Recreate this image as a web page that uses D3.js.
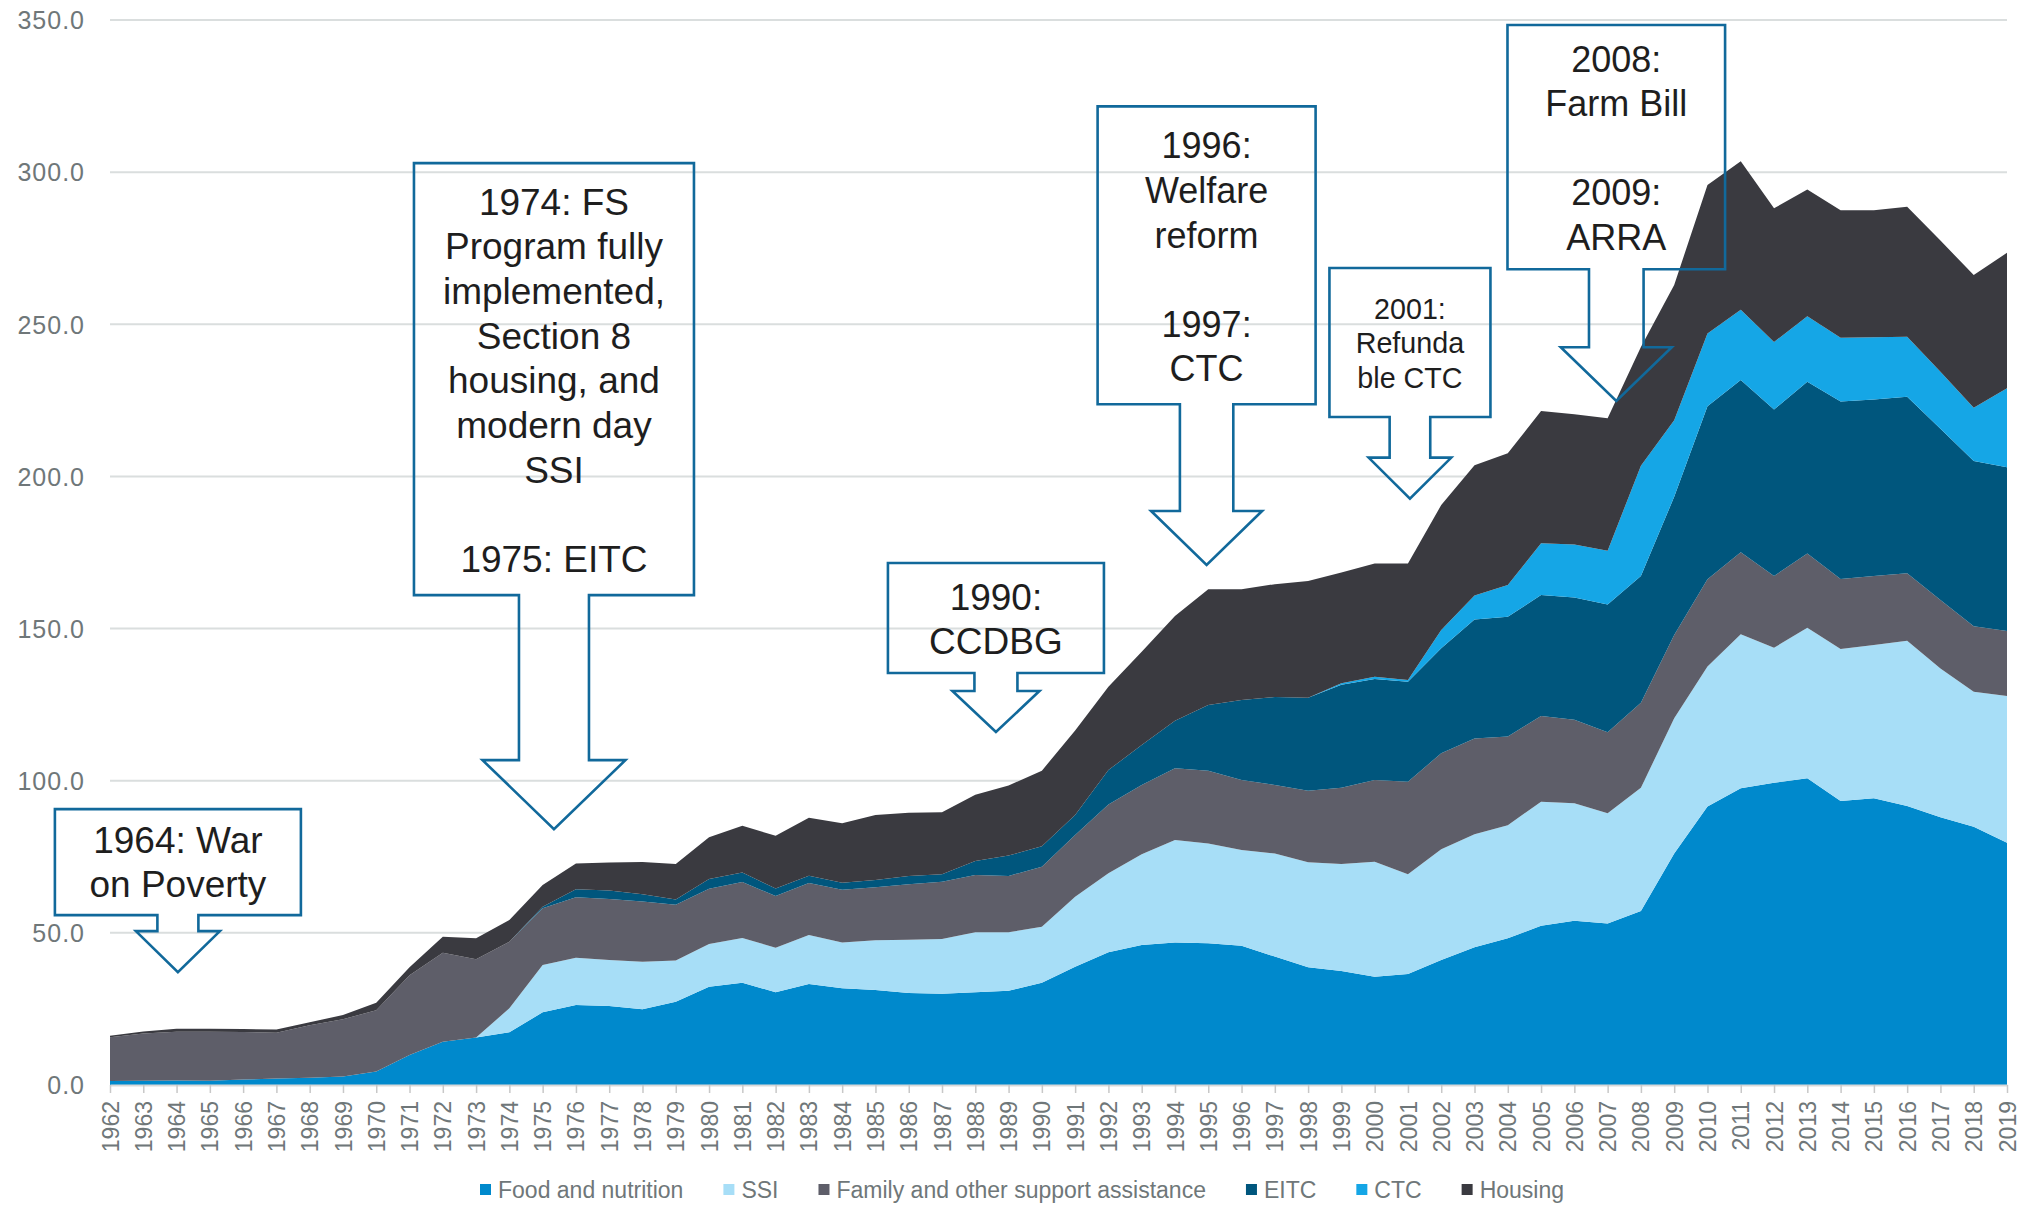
<!DOCTYPE html>
<html>
<head>
<meta charset="utf-8">
<script src="https://cdn.jsdelivr.net/npm/d3@7"></script>
<style>
  html, body { margin: 0; padding: 0; background: #ffffff; }
  svg { display: block; font-family: "Liberation Sans", Arial, sans-serif; }
</style>
</head>
<body>
<svg id="chart" width="2028" height="1206"></svg>
<script>
// ---------------- DATA ----------------
const years = [1962,1963,1964,1965,1966,1967,1968,1969,1970,1971,
               1972,1973,1974,1975,1976,1977,1978,1979,1980,1981,
               1982,1983,1984,1985,1986,1987,1988,1989,1990,1991,
               1992,1993,1994,1995,1996,1997,1998,1999,2000,2001,
               2002,2003,2004,2005,2006,2007,2008,2009,2010,2011,
               2012,2013,2014,2015,2016,2017,2018,2019];

const seriesNames = ["Food and nutrition", "SSI", "Family and other support assistance", "EITC", "CTC", "Housing"];

const food = [1.3,1.4,1.5,1.4,1.8,2.1,2.4,2.8,4.4,9.9,
              14.2,15.6,17.3,23.9,26.3,26.0,24.9,27.4,32.3,33.6,
              30.5,33.2,31.8,31.2,30.2,30.0,30.5,31.0,33.6,38.9,
              43.6,46.0,46.8,46.6,45.8,42.2,38.7,37.5,35.6,36.5,
              41.1,45.3,48.2,52.3,54.0,53.1,57.2,76.1,91.5,97.5,
              99.3,100.8,93.3,94.2,91.7,88.0,84.9,79.6];

const ssi = [0,0,0,0,0,0,0,0,0,0,
             0,0,7.9,15.5,15.5,15.1,15.6,13.5,14.0,14.7,
             14.6,16.1,15.0,16.4,17.5,18.0,19.7,19.2,18.4,23.0,
             26.0,29.8,33.7,32.8,31.4,33.9,34.5,35.1,37.8,32.8,
             36.4,37.1,37.2,40.8,38.6,36.2,40.5,44.4,46.0,50.6,
             44.4,49.5,50.0,50.4,54.3,48.9,44.3,48.2];

const family = [14.4,15.5,16.0,16.1,15.6,15.1,17.2,18.8,20.2,26.2,
                29.3,25.7,21.9,18.7,19.9,20.0,19.8,18.3,18.2,18.4,
                17.0,17.1,17.4,17.4,18.3,18.8,18.8,18.5,19.7,20.3,
                22.6,22.8,23.6,23.9,23.0,22.5,23.5,25.1,26.8,30.4,
                31.5,31.5,29.1,28.2,27.4,26.6,27.9,27.4,28.7,27.0,
                23.6,24.4,23.0,22.7,22.2,22.5,21.6,21.4];

const eitc = [0,0,0,0,0,0,0,0,0,0,
              0,0,0,0.5,2.6,2.8,2.4,1.8,3.2,3.1,
              2.5,2.4,2.3,2.4,2.7,2.5,4.6,6.7,6.8,6.5,
              11.3,13.1,15.6,21.6,26.3,28.9,30.6,33.8,33.2,32.8,
              34.5,39.1,39.4,39.7,40.2,42.0,41.7,45.4,56.9,56.6,
              54.7,56.4,58.3,58.0,58.0,56.3,54.3,53.8];

const ctc = [0,0,0,0,0,0,0,0,0,0,
             0,0,0,0,0,0,0,0,0,0,
             0,0,0,0,0,0,0,0,0,0,
             0,0,0,0,0,0,0,0.5,0.8,0.6,
             6.0,7.9,10.4,17.0,17.4,17.7,36.2,25.2,23.9,23.1,
             22.2,21.5,21.0,20.4,19.7,18.7,17.5,26.0];

const housing = [0.5,0.7,1.0,1.0,1.0,1.0,1.0,1.4,2.4,2.6,
                 5.2,6.9,7.1,7.1,8.5,9.2,10.6,11.6,13.7,15.4,
                 17.3,19.0,19.5,21.3,20.8,20.3,21.8,23.0,24.8,27.8,
                 27.4,30.7,34.4,38.0,36.4,37.1,38.3,36.4,37.2,38.3,
                 41.1,42.8,43.3,43.5,42.8,43.5,39.0,44.4,48.8,48.8,
                 43.9,41.7,41.9,41.8,42.7,43.1,43.6,44.5];

const yTicks = [0, 50, 100, 150, 200, 250, 300, 350];

const calloutTexts = [
  ["1964: War", "on Poverty"],
  ["1974: FS", "Program fully", "implemented,", "Section 8", "housing, and", "modern day", "SSI", "", "1975: EITC"],
  ["1990:", "CCDBG"],
  ["1996:", "Welfare", "reform", "", "1997:", "CTC"],
  ["2001:", "Refunda", "ble CTC"],
  ["2008:", "Farm Bill", "", "2009:", "ARRA"]
];
// arrow tip anchors in data space [year, value]
const calloutTips = [[1964.04, 37.1], [1975.34, 84.1], [1988.62, 116.0], [1994.95, 170.9], [2001.06, 192.7], [2007.26, 224.8]];

// ---------------- STYLE / LAYOUT ----------------
const colors = ["#0089CC", "#A7DEF7", "#5E5E69", "#00567D", "#15A6E6", "#3A3A40"];
const W = 2028, H = 1206;
const plot = { left: 110, right: 2007, top: 20, bottom: 1085 };
const calloutShapes = [
  {hw:123,   top:-163,   bot:-57,    stem:20.5, stemBot:-41,   wing:42,   base:-119.3, lh:44.6, fs:37},
  {hw:140,   top:-666,   bot:-234,   stem:35,   stemBot:-69,   wing:71.5, base:-614.5, lh:44.7, fs:37},
  {hw:108,   top:-169,   bot:-59,    stem:21.5, stemBot:-41,   wing:43.5, base:-122,   lh:44,   fs:37},
  {hw:109,   top:-458.6, bot:-160.7, stem:26.7, stemBot:-54,   wing:55.5, base:-406.5, lh:44.6, fs:36},
  {hw:80.5,  top:-230.7, bot:-81.7,  stem:20.3, stemBot:-41,   wing:41.3, base:-179.7, lh:34.4, fs:28.7},
  {hw:108.8, top:-376,   bot:-131.7, stem:27.3, stemBot:-53.7, wing:55.5, base:-329.3, lh:44.6, fs:36}
];

// ---------------- BUILD ----------------
const svg = d3.select("#chart");
svg.append("rect").attr("width", W).attr("height", H).attr("fill", "#ffffff");

const x = d3.scaleLinear().domain([years[0], years[years.length - 1]]).range([plot.left, plot.right]);
const y = d3.scaleLinear().domain([0, 350]).range([plot.bottom, plot.top]);

const seriesArrays = [food, ssi, family, eitc, ctc, housing];
const table = years.map((yr, i) => {
  const row = { year: yr };
  seriesNames.forEach((k, j) => row[k] = seriesArrays[j][i]);
  return row;
});

// gridlines
svg.append("g").selectAll("line").data(yTicks.filter(t => t > 0)).join("line")
  .attr("x1", plot.left).attr("x2", plot.right)
  .attr("y1", d => y(d)).attr("y2", d => y(d))
  .attr("stroke", "#DADEDE").attr("stroke-width", 2);

// stacked areas
const stack = d3.stack().keys(seriesNames);
const layers = stack(table);
const area = d3.area()
  .x(d => x(d.data.year))
  .y0(d => y(d[0]))
  .y1(d => y(d[1]));
svg.append("g").selectAll("path").data(layers).join("path")
  .attr("d", area)
  .attr("fill", (d, i) => colors[i]);

// x axis
const xAxis = d3.axisBottom(x).tickValues(years).tickFormat(d3.format("d")).tickSize(8).tickSizeOuter(0);
const gx = svg.append("g").attr("transform", `translate(0,${plot.bottom})`).call(xAxis);
gx.select(".domain").attr("stroke", "#D9D9D9").attr("stroke-width", 2);
gx.selectAll(".tick line").attr("stroke", "#C8C8C8").attr("stroke-width", 1.5);
gx.selectAll(".tick text")
  .attr("font-size", 23)
  .attr("fill", "#6F7779")
  .attr("font-family", "'Liberation Sans', Arial, sans-serif")
  .attr("text-anchor", "end")
  .attr("transform", "rotate(-90)")
  .attr("x", -16).attr("y", 0).attr("dy", "0.35em");

// y axis labels
const yAxis = d3.axisLeft(y).tickValues(yTicks).tickFormat(d3.format(".1f")).tickSize(0);
const gy = svg.append("g").attr("transform", `translate(${plot.left - 25},0)`).call(yAxis);
gy.select(".domain").remove();
gy.selectAll(".tick text")
  .attr("font-size", 25)
  .attr("letter-spacing", "1px")
  .attr("fill", "#6F7779")
  .attr("font-family", "'Liberation Sans', Arial, sans-serif")
  .attr("x", 0).attr("dy", "0.35em");

// callouts
const cg = svg.append("g");
calloutTexts.forEach((lines, i) => {
  const s = calloutShapes[i];
  const tx = x(calloutTips[i][0]), ty = y(calloutTips[i][1]);
  const L = tx - s.hw, R = tx + s.hw, T = ty + s.top, B = ty + s.bot, SB = ty + s.stemBot;
  const pts = [[L, T], [R, T], [R, B], [tx + s.stem, B], [tx + s.stem, SB], [tx + s.wing, SB],
               [tx, ty], [tx - s.wing, SB], [tx - s.stem, SB], [tx - s.stem, B], [L, B]];
  cg.append("path")
    .attr("d", d3.line()(pts) + "Z")
    .attr("fill", "none")
    .attr("stroke", "#11699B")
    .attr("stroke-width", 2.6)
    .attr("stroke-linejoin", "miter");
  const t = cg.append("text")
    .attr("text-anchor", "middle")
    .attr("font-size", s.fs)
    .attr("fill", "#1E1E1E");
  lines.forEach((ln, k) => {
    t.append("tspan").attr("x", tx).attr("y", ty + s.base + k * s.lh).text(ln);
  });
});

// legend
const lg = svg.append("g");
let lx = 480;
const ly = 1190;
seriesNames.forEach((name, i) => {
  lg.append("rect").attr("x", lx).attr("y", ly - 6).attr("width", 11).attr("height", 11).attr("fill", colors[i]);
  const t = lg.append("text").attr("x", lx + 18).attr("y", ly).attr("dy", "0.35em")
    .attr("font-size", 23).attr("fill", "#6F7779").text(name);
  lx += 18 + t.node().getComputedTextLength() + 40;
});
</script>
</body>
</html>
